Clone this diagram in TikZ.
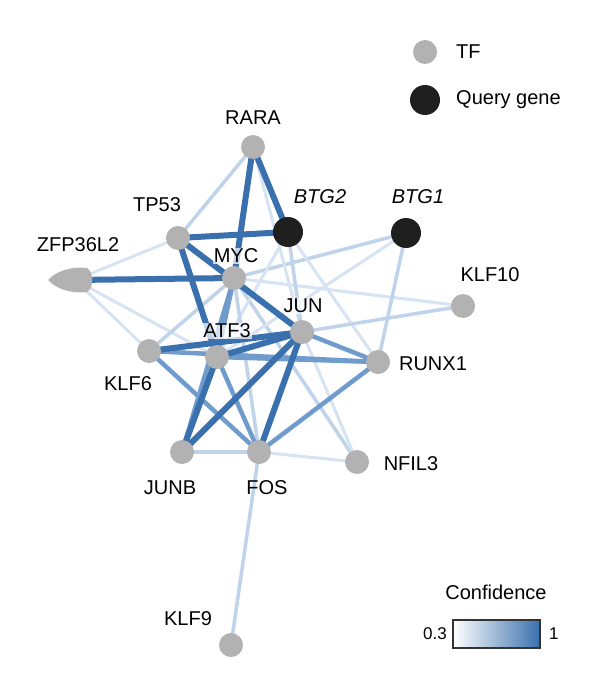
\documentclass[tikz,border=0pt]{standalone}
\usepackage{fontspec}
\setmainfont{Liberation Sans}
\begin{document}
\begin{tikzpicture}[x=1pt,y=-1pt,
 tf/.style={circle,fill=gray!60,minimum size=24pt,inner sep=0pt},
 qg/.style={circle,fill=black!88,minimum size=30pt,inner sep=0pt},
 lab/.style={font=\fontsize{20}{24}\selectfont,inner sep=1pt},
 labw/.style={lab,fill=white,fill opacity=0.7,text opacity=1},
 ed/.style={line width=6pt,color={rgb,255:red,58;green,112;blue,173}},
 em/.style={line width=4.5pt,color={rgb,255:red,112;green,155;blue,205}},
 el/.style={line width=3.5pt,color={rgb,255:red,191;green,211;blue,234}},
 ex/.style={line width=3pt,color={rgb,255:red,214;green,227;blue,242}}]
\useasboundingbox (0,0) rectangle (615,690);
\coordinate (RARA) at (253,147);
\coordinate (BTG2) at (288,232);
\coordinate (BTG1) at (406,233);
\coordinate (TP53) at (178,238);
\coordinate (ZF) at (75,280);
\coordinate (MYC) at (234,278);
\coordinate (KLF10) at (463,306);
\coordinate (JUN) at (302,332);
\coordinate (ATF3) at (217,357);
\coordinate (KLF6) at (149,351);
\coordinate (RUNX1) at (378,362);
\coordinate (JUNB) at (182,452);
\coordinate (FOS) at (259,452);
\coordinate (NFIL3) at (357,462);
\coordinate (KLF9) at (231,645);
% light edges
\draw[ex] (ZF)--(TP53); \draw[ex] (ZF)--(ATF3); \draw[ex] (ZF)--(KLF6);
\draw[ex] (MYC)--(KLF10); \draw[el] (MYC)--(BTG1); \draw[el] (MYC)--(KLF6);
\draw[el] (MYC)--(NFIL3); \draw[el] (RARA)--(TP53); \draw[ex] (RARA)--(JUN);
\draw[el] (BTG2)--(JUN); \draw[ex] (BTG2)--(RUNX1); \draw[ex] (BTG2)--(ATF3);
\draw[el] (BTG1)--(RUNX1); \draw[ex] (BTG1)--(ATF3); \draw[el] (KLF10)--(JUN);
\draw[ex] (JUN)--(NFIL3); \draw[el] (JUNB)--(FOS); \draw[ex] (FOS)--(NFIL3);
\draw[el] (FOS)--(KLF9); \draw[el] (MYC)--(FOS);
% medium
\draw[em] (MYC)--(ATF3); \draw[em] (MYC)--(JUNB); \draw[em] (JUN)--(RUNX1);
\draw[em] (KLF6)--(RUNX1); \draw[em] (KLF6)--(FOS); \draw[em] (ATF3)--(FOS);
\draw[em] (ATF3)--(RUNX1); \draw[em] (RUNX1)--(FOS);
% dark
\draw[ed] (RARA)--(MYC); \draw[ed] (RARA)--(BTG2); \draw[ed] (TP53)--(BTG2);
\draw[ed] (TP53)--(ATF3); \draw[ed] (TP53)--(JUN); \draw[ed] (ZF)--(MYC);
\draw[ed] (JUN)--(KLF6); \draw[ed] (JUN)--(ATF3); \draw[ed] (JUN)--(JUNB);
\draw[ed] (JUN)--(FOS); \draw[ed] (ATF3)--(JUNB);
% nodes
\foreach \n in {RARA,TP53,MYC,KLF10,JUN,ATF3,KLF6,RUNX1,JUNB,FOS,NFIL3,KLF9}
  \node[tf] (n\n) at (\n) {};
\node[qg] (nBTG2) at (BTG2) {};
\node[qg] (nBTG1) at (BTG1) {};
\fill[gray!60] (nBTG2.center) ++(0,0) circle (0pt);
\path[fill=gray!60] (87,268) .. controls (70,266) and (55,272) .. (48,280)
  .. controls (55,288) and (70,294) .. (87,292) .. controls (94,288) and (94,272) .. (87,268);
% labels
\node[lab] (lRARA) at (253,118) {RARA};
\node[lab] (lBTG2) at (320,197) {\itshape BTG2};
\node[lab] (lBTG1) at (418,197) {\itshape BTG1};
\node[lab] (lTP53) at (157,205) {TP53};
\node[lab] (lZF) at (78,245) {ZFP36L2};
\node[labw] (lMYC) at (236,256) {MYC};
\node[lab] (lKLF10) at (490,275) {KLF10};
\node[labw] (lJUN) at (303,306) {JUN};
\node[labw] (lATF3) at (227,331) {ATF3};
\node[lab] (lKLF6) at (128,384) {KLF6};
\node[lab] (lRUNX1) at (433,364) {RUNX1};
\node[lab] (lJUNB) at (170,488) {JUNB};
\node[lab] (lFOS) at (267,488) {FOS};
\node[lab] (lNFIL3) at (411,464) {NFIL3};
\node[lab] (lKLF9) at (188,619) {KLF9};
% legend
\node[tf] (legTF) at (425,52) {};
\node[lab,anchor=west] (legTFl) at (455,52) {TF};
\node[qg] (legQ) at (425,100) {};
\node[lab,anchor=west] (legQl) at (455,100) {Query gene};
\node[lab] (conf) at (496,592) {Confidence};
\shade[left color=white,right color={rgb,255:red,58;green,112;blue,173}] (453,620) rectangle (540,648);
\draw[line width=1.2pt,black!80] (453,620) rectangle (540,648);
\node[lab,font=\fontsize{17}{20}\selectfont,anchor=east] (c03) at (448,634) {0.3};
\node[lab,font=\fontsize{17}{20}\selectfont,anchor=west] (c1) at (548,634) {1};
\end{tikzpicture}
\end{document}
